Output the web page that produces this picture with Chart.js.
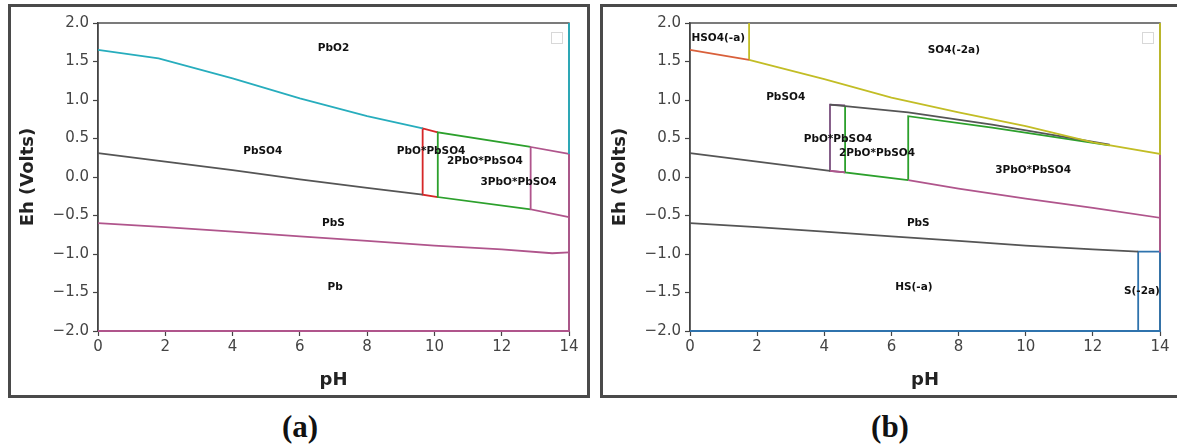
<!DOCTYPE html>
<html>
<head>
<meta charset="utf-8">
<script src="https://cdn.jsdelivr.net/npm/chart.js@4.4.1/dist/chart.umd.min.js"></script>
<style>
  body { margin: 0; background: #fff; width: 1177px; height: 448px; position: relative; overflow: hidden; }
  .frame { position: absolute; border: 3px solid #4a4a4a; box-sizing: border-box; }
  canvas { position: absolute; }
  .cap { position: absolute; font: bold 31px "Liberation Serif", serif; color: #111; transform: translateX(-50%); }
</style>
</head>
<body>
<div class="frame" style="left:8px;top:4px;width:582px;height:394px"></div>
<div class="frame" style="left:600px;top:4px;width:590px;height:394px"></div>
<canvas id="chartA" width="575" height="386" style="left:12px;top:8px"></canvas>
<canvas id="chartB" width="571" height="386" style="left:604px;top:8px"></canvas>
<div class="cap" style="left:300px;top:409px">(a)</div>
<div class="cap" style="left:890px;top:409px">(b)</div>
<script>
// axis ticks
const phTicks = [0, 2, 4, 6, 8, 10, 12, 14];
const ehTicks = [-2.0, -1.5, -1.0, -0.5, 0.0, 0.5, 1.0, 1.5, 2.0];

// (a) boundaries, [pH, Eh]
const aPbO2 = [[0, 1.65], [1.8, 1.54], [4, 1.28], [6, 1.02], [8, 0.79], [9.65, 0.63]];
const aPbO2Edge = [[14, 2.0], [14, 0.3]];
const aPbSO4PbS = [[0, 0.31], [2, 0.2], [4, 0.09], [6, -0.03], [8, -0.14], [9.65, -0.23]];
const aPbOPbSO4 = [[10.1, 0.58], [9.65, 0.63], [9.65, -0.23], [10.1, -0.26]];
const a2PbOPbSO4 = [[12.86, 0.39], [10.1, 0.58], [10.1, -0.26], [12.86, -0.42]];
const a3PbOPbSO4 = [[14, 0.3], [12.86, 0.39], [12.86, -0.42], [14, -0.52]];
const aPbEdge = [[14, 0.3], [14, -2.0], [0, -2.0]];
const aPbSPb = [[0, -0.6], [2, -0.65], [4, -0.71], [6, -0.77], [8, -0.83], [10, -0.89], [12, -0.94], [13.5, -0.99], [14, -0.98]];

const aNames = ['PbO2', 'PbSO4', 'PbO*PbSO4', '2PbO*PbSO4', '3PbO*PbSO4', 'PbS', 'Pb'];
const aNamePH = [7.0, 4.9, 9.9, 11.5, 12.5, 7.0, 7.05];
const aNameEh = [1.67, 0.33, 0.34, 0.2, -0.07, -0.6, -1.43];

// (b) boundaries, [pH, Eh]
const bHSO4 = [[0, 1.65], [1.76, 1.52]];
const bHSO4SO4 = [[1.76, 2.0], [1.76, 1.52]];
const bSO4 = [[1.76, 1.52], [4, 1.27], [6, 1.03], [8, 0.84], [10, 0.66], [12, 0.45], [14, 0.3], [14, 2.0]];
const bPbSO4PbS = [[0, 0.31], [2, 0.2], [4.17, 0.08]];
const bPbOPbSO4 = [[4.62, 0.93], [4.17, 0.94], [4.17, 0.08], [4.62, 0.06]];
const bTopGray = [[4.17, 0.94], [6.5, 0.84], [9, 0.68], [12.5, 0.42]];
const b2PbOLeft = [[4.62, 0.92], [4.62, 0.06], [6.5, -0.04]];
const b2PbORight = [[12.5, 0.41], [9, 0.64], [6.5, 0.79], [6.5, -0.04]];
const bPbSTop = [[4.17, 0.08], [4.62, 0.06]];
const b3PbOPbS = [[6.5, -0.04], [8, -0.15], [10, -0.28], [12, -0.4], [14, -0.53], [14, 0.3]];
const bPbSEdge = [[14, -0.53], [14, -0.98]];
const bPbSHS = [[0, -0.6], [2, -0.65], [4, -0.71], [6, -0.77], [8, -0.83], [10, -0.89], [12, -0.94], [13.35, -0.97]];
const bS2 = [[0, -2.0], [13.35, -2.0], [13.35, -0.97], [14, -0.97], [14, -2.0], [13.35, -2.0]];

const bNames = ['HSO4(-a)', 'SO4(-2a)', 'PbSO4', 'PbO*PbSO4', '2PbO*PbSO4', '3PbO*PbSO4', 'PbS', 'HS(-a)', 'S(-2a)'];
const bNamePH = [0.84, 7.86, 2.85, 4.41, 5.57, 10.22, 6.8, 6.67, 13.46];
const bNameEh = [1.8, 1.65, 1.03, 0.49, 0.31, 0.09, -0.6, -1.43, -1.49];

function line(pts, color, width) {
    return {
        data: pts.map(p => ({ x: p[0], y: p[1] })),
        borderColor: color,
        borderWidth: width || 1.8,
        showLine: true,
        pointRadius: 0,
        fill: false,
        tension: 0,
        clip: false
    };
}

// spines, empty legend box and phase names
const phasePlugin = {
    id: 'phases',
    beforeDatasetsDraw(chart) {
        const a = chart.chartArea, ctx = chart.ctx;
        ctx.save();
        ctx.strokeStyle = '#444';
        ctx.lineWidth = 1.4;
        ctx.strokeRect(a.left, a.top, a.right - a.left, a.bottom - a.top);
        ctx.strokeStyle = '#d8d8d8';
        ctx.lineWidth = 1;
        ctx.strokeRect(a.right - 17.5, a.top + 9.5, 11, 11);
        ctx.restore();
    },
    afterDatasetsDraw(chart, args, opts) {
        const ctx = chart.ctx, xs = chart.scales.x, ys = chart.scales.y;
        ctx.save();
        ctx.font = 'bold 10.5px "DejaVu Sans"';
        ctx.fillStyle = '#111';
        ctx.textAlign = 'center';
        ctx.textBaseline = 'middle';
        opts.names.forEach((n, i) => {
            ctx.fillText(n, xs.getPixelForValue(opts.ph[i]), ys.getPixelForValue(opts.eh[i]));
        });
        ctx.restore();
    }
};

function makeChart(id, datasets, names, ph, eh, rightPad) {
    return new Chart(document.getElementById(id), {
        type: 'scatter',
        data: { datasets: datasets },
        plugins: [phasePlugin],
        options: {
            responsive: false,
            animation: false,
            layout: { padding: { left: 0, right: rightPad, top: 15, bottom: 0 } },
            plugins: {
                legend: { display: false },
                tooltip: { enabled: false },
                phases: { names: names, ph: ph, eh: eh }
            },
            scales: {
                x: {
                    type: 'linear',
                    min: phTicks[0],
                    max: phTicks[phTicks.length - 1],
                    afterBuildTicks: s => { s.ticks = phTicks.map(v => ({ value: v })); },
                    afterFit: s => { s.height = 63; },
                    ticks: { color: '#444', font: { family: 'DejaVu Sans', size: 15 }, padding: 2, maxRotation: 0, autoSkip: false },
                    grid: { drawOnChartArea: false, drawTicks: true, tickLength: 5, tickColor: '#444', tickWidth: 1.2 },
                    border: { display: true, color: '#444', width: 1.4 },
                    title: { display: true, text: 'pH', color: '#222', font: { family: 'DejaVu Sans', size: 18, weight: 'bold' }, padding: { top: 0, bottom: 3 } }
                },
                y: {
                    type: 'linear',
                    min: ehTicks[0],
                    max: ehTicks[ehTicks.length - 1],
                    afterBuildTicks: s => { s.ticks = ehTicks.map(v => ({ value: v })); },
                    afterFit: s => { s.width = 86; },
                    ticks: {
                        color: '#444', font: { family: 'DejaVu Sans', size: 15 }, padding: 4, autoSkip: false,
                        callback: v => v.toFixed(1).replace('-', '\u2212')
                    },
                    grid: { drawOnChartArea: false, drawTicks: true, tickLength: 5, tickColor: '#444', tickWidth: 1.2 },
                    border: { display: true, color: '#444', width: 1.4 },
                    title: { display: true, text: 'Eh (Volts)', color: '#222', font: { family: 'DejaVu Sans', size: 18, weight: 'bold' }, padding: { top: 6, bottom: 0 } }
                }
            }
        }
    });
}

const cyan = '#27adbd', gray = '#555555', pink = '#b0558c', red = '#d62728',
      green = '#2ca02c', olive = '#c2bd25', blue = '#2f73ad', purple = '#7a4f7e';

makeChart('chartA', [
    line(aPbO2, cyan), line(aPbO2Edge, cyan),
    line(aPbSO4PbS, gray),
    line(a3PbOPbSO4, pink), line(aPbEdge, pink), line(aPbSPb, pink),
    line(a2PbOPbSO4, green),
    line(aPbOPbSO4, red)
], aNames, aNamePH, aNameEh, 18);

makeChart('chartB', [
    line(bHSO4, '#d9603b'), line(bSO4, olive), line(bHSO4SO4, olive),
    line(bPbSO4PbS, gray), line(bTopGray, gray),
    line(b3PbOPbS, pink), line(bPbSEdge, pink), line(bPbSTop, pink),
    line(bPbSHS, gray),
    line(bPbOPbSO4, purple),
    line(b2PbOLeft, green), line(b2PbORight, green),
    line(bS2, blue)
], bNames, bNamePH, bNameEh, 15);
</script>
</body>
</html>
